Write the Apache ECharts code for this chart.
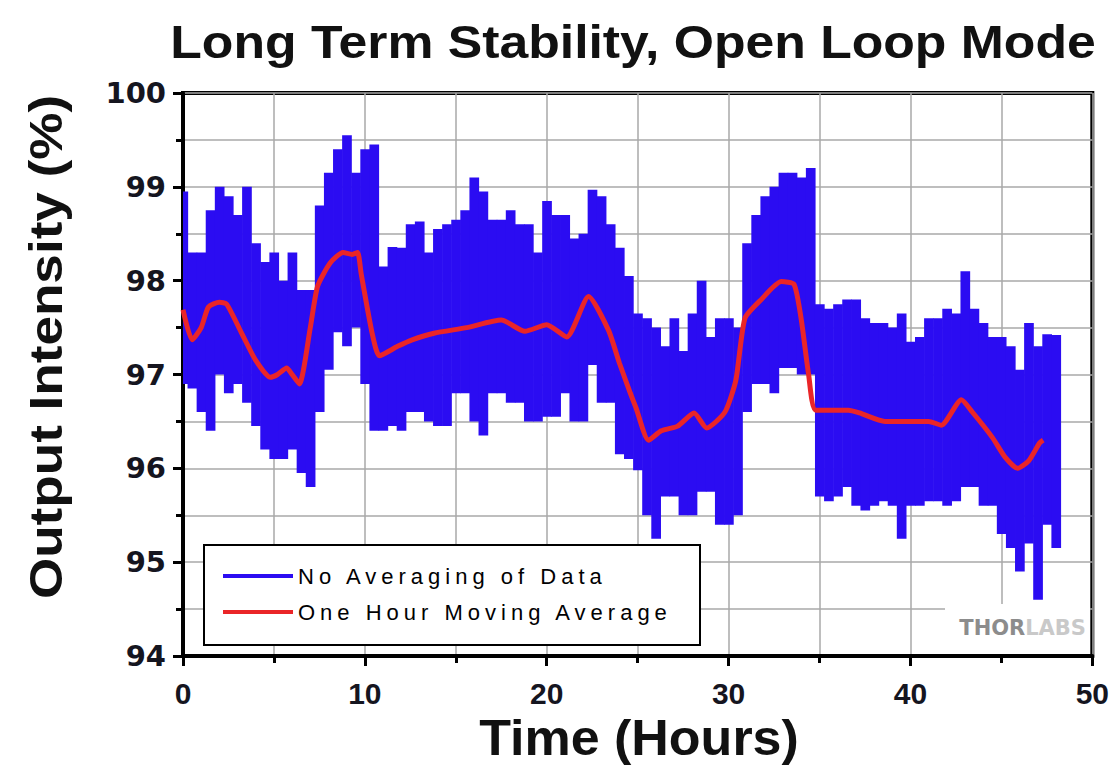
<!DOCTYPE html>
<html><head><meta charset="utf-8">
<script src="https://cdn.jsdelivr.net/npm/echarts@6/dist/echarts.min.js"></script>
<style>
html,body{margin:0;padding:0;background:#fff}
#c{width:1112px;height:773px}
#c text[fill="#010102"]{letter-spacing:5px !important}
</style></head><body><div id="c"></div>
<script>
// ---- data ----
const hours = [0,0.5,1,1.5,2,2.5,3,3.5,4,4.5,5,5.5,6,6.5,7,7.5,8,8.5,9,9.5,
  10,10.5,11,11.5,12,12.5,13,13.5,14,14.5,15,15.5,16,16.5,17,17.5,18,18.5,19,19.5,
  20,20.5,21,21.5,22,22.5,23,23.5,24,24.5,25,25.5,26,26.5,27,27.5,28,28.5,29,29.5,
  30,30.5,31,31.5,32,32.5,33,33.5,34,34.5,35,35.5,36,36.5,37,37.5,38,38.5,39,39.5,
  40,40.5,41,41.5,42,42.5,43,43.5,44,44.5,45,45.5,46,46.5,47,47.5,48];
// upper and lower extent of the un-averaged (noisy) signal
const rawHigh = [98.95,98.3,98.3,98.75,99.0,98.9,98.7,99.0,98.4,98.2,
  98.3,98.0,98.3,97.9,97.9,98.8,99.15,99.4,99.55,99.15,
  99.4,99.45,98.15,98.36,98.35,98.6,98.63,98.3,98.55,98.6,
  98.65,98.75,99.1,98.95,98.65,98.65,98.75,98.6,98.6,98.3,
  98.85,98.7,98.7,98.45,98.5,98.97,98.9,98.6,98.35,98.05,
  97.65,97.6,97.5,97.3,97.6,97.25,97.65,98.0,97.4,97.6,
  97.6,97.5,98.4,98.7,98.9,99.0,99.15,99.15,99.1,99.2,
  97.75,97.7,97.75,97.8,97.8,97.6,97.55,97.55,97.5,97.65,
  97.35,97.4,97.6,97.6,97.7,97.65,98.1,97.7,97.55,97.4,
  97.4,97.3,97.05,97.55,97.3,97.43,97.42];
const rawLow = [96.9,96.85,96.6,96.4,97.0,96.8,96.9,96.7,96.45,96.2,
  96.1,96.1,96.2,95.95,95.8,96.6,97.05,97.45,97.3,97.5,
  96.9,96.4,96.4,96.45,96.4,96.6,96.6,96.5,96.45,96.45,
  96.8,96.8,96.5,96.35,96.8,96.8,96.7,96.7,96.5,96.5,
  96.55,96.55,96.8,96.5,96.5,97.1,96.7,96.7,96.15,96.1,
  95.98,95.5,95.25,95.7,95.7,95.5,95.5,95.75,95.75,95.4,
  95.4,95.5,96.6,96.9,96.9,96.8,97.07,97.07,97.0,97.0,
  95.7,95.65,95.7,95.8,95.6,95.55,95.6,95.65,95.6,95.25,
  95.6,95.6,95.65,95.65,95.6,95.65,95.8,95.8,95.6,95.6,
  95.3,95.15,94.9,95.2,94.6,95.4,95.15];
// one hour moving average
const avgHours = [0,0.5,1.0,1.4,2.0,2.4,3.2,4.0,4.8,5.2,5.7,6.0,6.4,7.0,7.4,8.1,8.8,9.3,9.6,9.8,
  10.4,10.8,11.8,12.6,13.8,15.6,17.5,18.8,20.0,21.1,22.3,23.4,24.0,24.6,24.9,25.6,26.3,27.2,28.1,28.8,
  29.8,30.4,30.9,31.8,32.9,33.6,34.0,34.4,34.8,36.6,37.2,38.6,41.0,41.7,42.8,43.4,44.5,45.2,45.9,46.5,47.1,47.3];
const avgValues = [97.69,97.37,97.5,97.72,97.77,97.75,97.45,97.15,96.97,97.0,97.07,97.0,96.9,97.5,97.94,98.19,98.3,98.28,98.3,98.07,
  97.44,97.2,97.3,97.37,97.44,97.5,97.58,97.46,97.53,97.4,97.83,97.47,97.12,96.8,96.65,96.3,96.4,96.45,96.59,96.43,
  96.6,96.94,97.6,97.8,97.99,97.96,97.58,97.0,96.62,96.62,96.59,96.5,96.5,96.46,96.73,96.6,96.33,96.12,96.0,96.08,96.27,96.3];
const xTickLabels = ['0','10','20','30','40','50'];
const yTickLabels = ['94','95','96','97','98','99','100'];
const seriesNames = ['No Averaging of Data','One Hour Moving Average'];
// ---------------------------------------------

const rawData = hours.map((h,i)=>[h, rawHigh[i], rawLow[i]]);
const avgData = avgHours.map((h,i)=>[h, avgValues[i]]);
const BLUE = '#2b0cf2', RED = '#ea2528';
const LIB = '"Liberation Sans", Arial, sans-serif';

const chart = echarts.init(document.getElementById('c'), null, {renderer:'svg'});
chart.setOption({
  animation:false,
  backgroundColor:'#fff',
  grid:{left:183, right:19, top:93, bottom:117, show:true, borderColor:'#000', borderWidth:4, backgroundColor:'#fff'},
  xAxis:{type:'value', min:0, max:50, interval:10,
    axisLine:{show:true, lineStyle:{color:'#000', width:4}},
    axisTick:{show:true, length:10, lineStyle:{color:'#000', width:3}},
    minorTick:{show:true, splitNumber:2, length:7, lineStyle:{color:'#000', width:3}},
    splitLine:{show:true, lineStyle:{color:'#a9a9a9', width:1.5}},
    minorSplitLine:{show:true, lineStyle:{color:'#a9a9a9', width:1.5}},
    axisLabel:{margin:22, formatter:(v)=>xTickLabels[Math.round(v/10)],
      fontFamily:LIB, fontWeight:'bold', fontSize:30, color:'#15151f'}
  },
  yAxis:{type:'value', min:94, max:100, interval:1,
    axisLine:{show:true, lineStyle:{color:'#000', width:4}},
    axisTick:{show:true, length:10, lineStyle:{color:'#000', width:3}},
    minorTick:{show:true, splitNumber:2, length:7, lineStyle:{color:'#000', width:3}},
    splitLine:{show:true, lineStyle:{color:'#a9a9a9', width:1.5}},
    minorSplitLine:{show:true, lineStyle:{color:'#a9a9a9', width:1.5}},
    axisLabel:{margin:17, formatter:(v)=>yTickLabels[Math.round(v-94)],
      fontFamily:'"DejaVu Sans", sans-serif', fontWeight:'bold', fontSize:29, color:'#15151f'}
  },
  legend:{orient:'vertical', left:223, top:565, itemGap:14, itemWidth:70, itemHeight:4, padding:0,
    data:[{name:seriesNames[0], icon:'rect'},{name:seriesNames[1], icon:'rect'}],
    textStyle:{fontFamily:LIB, fontSize:22, color:'#010102'}
  },
  graphic:[
    {type:'text', z:10, position:[633,41], scaleX:1.1,
      style:{text:'Long Term Stability, Open Loop Mode', font:'bold 47px ' + LIB, fill:'#111', textAlign:'center', textVerticalAlign:'middle'}},
    {type:'text', z:10, position:[46,347], rotation:Math.PI/2, scaleX:1.13,
      style:{text:'Output Intensity (%)', font:'bold 47px ' + LIB, fill:'#111', textAlign:'center', textVerticalAlign:'middle'}},
    {type:'text', z:10, position:[639,738], scaleX:1.04,
      style:{text:'Time (Hours)', font:'bold 50px ' + LIB, fill:'#111', textAlign:'center', textVerticalAlign:'middle'}},
    {type:'rect', z:1, shape:{x:945, y:604, width:145, height:50}, style:{fill:'#fff'}},
    {type:'text', z:1, position:[1086,628],
      style:{text:'{a|THOR}{b|LABS}', textAlign:'right', textVerticalAlign:'middle',
        rich:{a:{fill:'#8c8c8c', font:'bold 21px "DejaVu Sans", sans-serif'}, b:{fill:'#c9c9c9', font:'bold 21px "DejaVu Sans", sans-serif'}}}},
    {type:'rect', z:3, shape:{x:204, y:545, width:496, height:100}, style:{fill:'#fff', stroke:'#000', lineWidth:2}}
  ],
  series:[
    {name:seriesNames[0], type:'custom', clip:true, itemStyle:{color:BLUE}, z:2,
      data:rawData, encode:{x:0, y:[1,2]},
      renderItem:function(params, api){
        const t = api.value(0), hi = api.value(1), lo = api.value(2);
        const p1 = api.coord([t - 0.25, hi]);
        const p2 = api.coord([t + 0.25, lo]);
        const cs = params.coordSys;
        const x0 = Math.max(p1[0], cs.x), x1 = Math.min(p2[0] + 0.6, cs.x + cs.width);
        return {type:'rect', shape:{x:x0, y:p1[1], width:x1 - x0, height:p2[1] - p1[1]},
          style:{fill:api.visual('color')}};
      }
    },
    {name:seriesNames[1], type:'line', data:avgData, showSymbol:false, symbol:'none', z:2, smooth:0.2,
      lineStyle:{color:RED, width:5}, itemStyle:{color:RED}}
  ]
});
</script></body></html>
